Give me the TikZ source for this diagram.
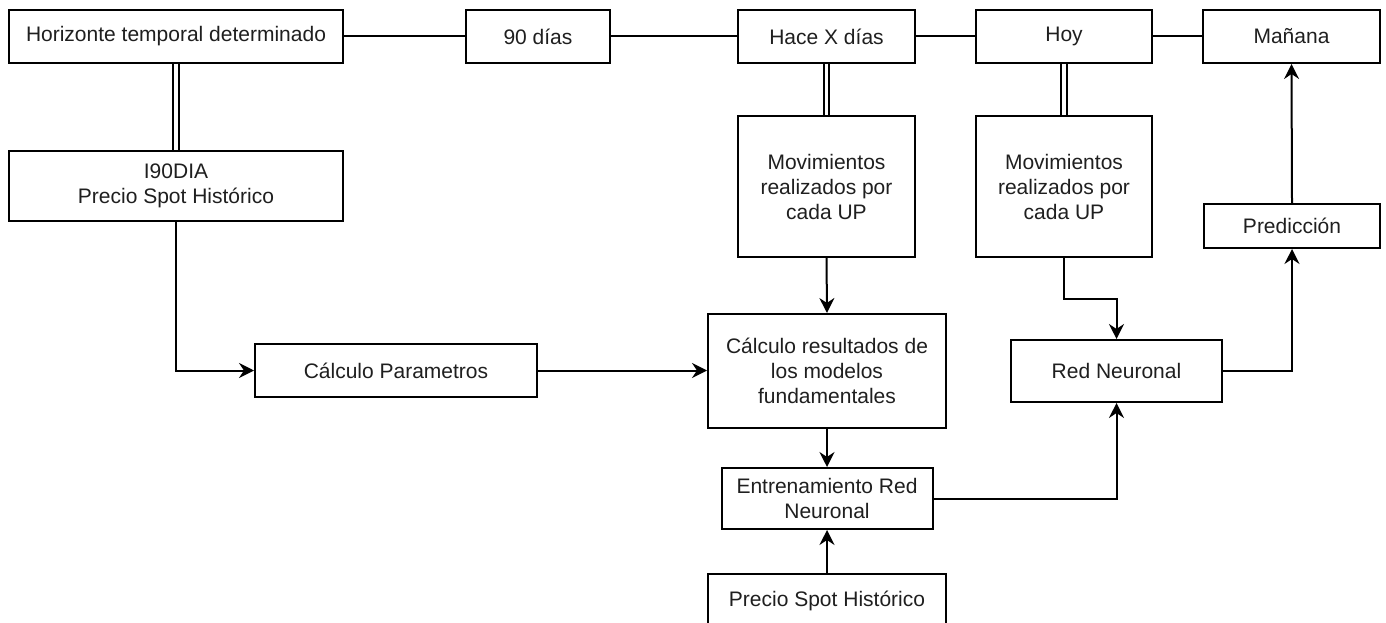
\documentclass[tikz,border=0pt]{standalone}
\usepackage{fontspec}
\setmainfont{Liberation Sans}
\usetikzlibrary{arrows.meta}
\begin{document}
\begin{tikzpicture}[x=1pt,y=-1pt,
  box/.style={draw, line width=2pt, inner sep=0pt, align=center,
    font=\fontsize{21}{25}\selectfont, text=black!88},
  ln/.style={line width=2pt},
  arr/.style={line width=2pt,-{Stealth[length=15pt,width=15pt,inset=5pt]}},
  dbl/.style={line width=2pt, double, double distance=3.5pt}]
\useasboundingbox (0,0) rectangle (1386,623);
\clip (0,0) rectangle (1386,623);
\fill[white] (0,0) rectangle (1386,623);
% top row
\node[box, minimum width=334pt, minimum height=53pt] (hor) at (176,36.5) {Horizonte temporal determinado};
\node[box, minimum width=144pt, minimum height=53pt] (d90) at (538,36.5) {90 días};
\node[box, minimum width=177pt, minimum height=53pt] (hace) at (826.5,36.5) {Hace X días};
\node[box, minimum width=176pt, minimum height=53pt] (hoy) at (1064,36.5) {Hoy};
\node[box, minimum width=177pt, minimum height=53pt] (man) at (1291.5,36.5) {Mañana};
% second level
\node[box, minimum width=334pt, minimum height=70pt] (i90) at (176,186) {I90DIA\\Precio Spot Histórico};
\node[box, minimum width=177pt, minimum height=141pt] (mov1) at (826.5,186.5) {Movimientos\\realizados por\\cada UP};
\node[box, minimum width=176pt, minimum height=141pt] (mov2) at (1064,186.5) {Movimientos\\realizados por\\cada UP};
\node[box, minimum width=176pt, minimum height=44pt] (pred) at (1292,226) {Predicción};
% middle
\node[box, minimum width=282pt, minimum height=53pt] (cpar) at (396,370.5) {Cálculo Parametros};
\node[box, minimum width=238pt, minimum height=114pt] (cres) at (827,371) {Cálculo resultados de\\los modelos\\fundamentales};
\node[box, minimum width=211pt, minimum height=62pt] (red) at (1116.5,371) {Red Neuronal};
\node[box, minimum width=211pt, minimum height=61pt] (ent) at (827,498.5) {Entrenamiento Red\\Neuronal};
\node[box, minimum width=238pt, minimum height=76pt] (psh) at (827,612) {};
\node[font=\fontsize{21}{25}\selectfont, text=black!88, anchor=base] (pshl) at (827,606) {Precio Spot Histórico};
% top connectors
\draw[ln] (hor) -- (d90);
\draw[ln] (d90) -- (hace);
\draw[ln] (hace) -- (hoy);
\draw[ln] (hoy) -- (man);
% double lines
\draw[dbl] (hor.south) -- (i90.north);
\draw[dbl] (hace.south) -- (mov1.north);
\draw[dbl] (hoy.south) -- (mov2.north);
% arrows
\draw[arr] (i90.south) |- (cpar.west);
\draw[arr] (cpar.east) -- (cpar.east -| cres.west);
\draw[arr] (mov1.south) -- (cres.north);
\draw[arr] (cres.south) -- (ent.north);
\draw[arr] (psh.north) -- (ent.south);
\draw[arr] (ent.east) -| (red.south);
\draw[arr] (mov2.south) -- ++(0,41) -| (red.north);
\draw[arr] (red.east) -| (pred.south);
\draw[arr] (pred.north) -- (man.south);
\end{tikzpicture}
\end{document}
